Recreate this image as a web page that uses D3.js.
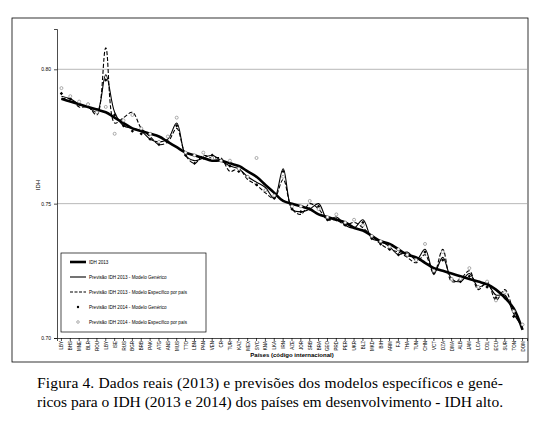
<!DOCTYPE html>
<html><head><meta charset="utf-8">
<script src="https://cdn.jsdelivr.net/npm/d3@7"></script>
<style>body{margin:0;background:#fff}</style>
</head><body>
<svg id="c" width="537" height="424"></svg>
<script>
var countries = ["LBY","BHS","MNE","BLR","ROU","LBY","ISE","RUS","BGR","BRB","PAK","ATG","ANS","MUS","TTO","LBN","PAN","VEN","CR","TUR","KAZ","MEX","SYC","KNA","LKA","IRN","AZE","JOR","SRB","BRA","GEO","PRD","PER","UKR","BLZ","MKD","BIH","ARM","FJI","THA","TUN","CHN","VCT","DZA","DMA","ALB","JAM","LCA","COL","ECU","SUR","TON","DOM"];
var idh2013 = [0.789,0.788,0.787,0.786,0.785,0.784,0.782,0.780,0.778,0.777,0.776,0.775,0.773,0.771,0.769,0.768,0.767,0.766,0.766,0.765,0.764,0.762,0.760,0.757,0.754,0.751,0.750,0.749,0.748,0.746,0.745,0.744,0.743,0.741,0.740,0.738,0.736,0.735,0.733,0.731,0.730,0.728,0.726,0.725,0.724,0.723,0.722,0.721,0.720,0.718,0.715,0.711,0.703];
var gen2013 = [0.790,0.789,0.787,0.786,0.784,0.798,0.784,0.779,0.778,0.777,0.774,0.773,0.774,0.780,0.768,0.766,0.767,0.768,0.766,0.764,0.763,0.760,0.758,0.756,0.752,0.763,0.748,0.747,0.748,0.750,0.744,0.745,0.742,0.741,0.744,0.737,0.736,0.734,0.731,0.732,0.729,0.733,0.724,0.730,0.722,0.721,0.724,0.719,0.720,0.716,0.716,0.709,0.704];
var spec2013 = [0.789,0.789,0.786,0.786,0.783,0.808,0.780,0.782,0.784,0.778,0.775,0.772,0.773,0.778,0.768,0.765,0.768,0.767,0.767,0.762,0.763,0.759,0.757,0.754,0.752,0.759,0.748,0.746,0.750,0.748,0.744,0.744,0.742,0.743,0.741,0.738,0.735,0.733,0.732,0.730,0.728,0.731,0.724,0.733,0.721,0.722,0.725,0.718,0.721,0.714,0.718,0.710,0.704];
var gen2014 = [0.791,0.789,0.787,0.787,0.785,0.796,0.783,0.779,0.777,0.776,0.774,0.772,0.773,0.779,0.768,0.765,0.767,0.768,0.766,0.764,0.762,0.760,0.757,0.755,0.752,0.762,0.748,0.747,0.748,0.749,0.744,0.744,0.742,0.741,0.743,0.737,0.735,0.733,0.731,0.731,0.729,0.732,0.724,0.729,0.722,0.721,0.723,0.719,0.719,0.715,0.715,0.708,0.705];
var spec2014 = [0.793,0.790,0.788,0.787,0.784,0.786,0.776,0.781,0.783,0.778,0.776,0.773,0.775,0.782,0.769,0.768,0.769,0.767,0.766,0.766,0.763,0.760,0.767,0.755,0.753,0.760,0.749,0.749,0.751,0.748,0.745,0.746,0.743,0.744,0.742,0.738,0.736,0.734,0.733,0.731,0.729,0.735,0.725,0.732,0.722,0.722,0.726,0.719,0.721,0.714,0.717,0.710,0.705];
var yTicks = [0.70,0.75,0.80];

var svg = d3.select("#c");
// outer frame
svg.append("rect").attr("x",12).attr("y",18).attr("width",516).attr("height",344)
  .attr("fill","none").attr("stroke","#000").attr("stroke-width",0.8);

// band domain by index (country codes repeat)
var x = d3.scaleBand().domain(d3.range(countries.length)).range([57,527]);
var y = d3.scaleLinear().domain([0.70,0.815]).range([338,29]);
var cx = function(i){ return x(i) + x.bandwidth()/2; };

svg.selectAll(".grid").data(yTicks.slice(1)).enter().append("line")
  .attr("x1",57).attr("x2",527).attr("y1",y).attr("y2",y)
  .attr("stroke","#999").attr("stroke-width",0.7);

var yAxis = svg.append("g").attr("transform","translate(57,0)")
  .call(d3.axisLeft(y).tickValues(yTicks).tickFormat(d3.format(".2f")).tickSize(3));
yAxis.selectAll("text").attr("font-size",5).attr("font-family","Arial, Liberation Sans");
var xAxis = svg.append("g").attr("transform","translate(0,338)")
  .call(d3.axisBottom(x).tickSize(3).tickFormat(function(i){return countries[i];}));
xAxis.selectAll("text").attr("font-size",4.5).attr("font-family","Arial, Liberation Sans")
  .attr("transform","rotate(-90)").attr("text-anchor","end").attr("dx",-3).attr("dy",-4);
svg.selectAll(".domain,.tick line").attr("stroke","#000").attr("stroke-width",0.7);

svg.append("text").attr("transform","translate(40,185) rotate(-90)").attr("text-anchor","middle")
  .attr("font-size",6).attr("font-family","Arial, Liberation Sans").text("IDH");
svg.append("text").attr("x",292).attr("y",357).attr("text-anchor","middle")
  .attr("font-size",6).attr("font-weight","bold").attr("font-family","Arial, Liberation Sans")
  .text("Países (código internacional)");

var line = d3.line().x(function(d,i){return cx(i);}).y(function(d){return y(d);})
  .curve(d3.curveCatmullRom.alpha(0.5));
function drawLine(data, w, dash){
  svg.append("path").datum(data).attr("d",line).attr("fill","none")
    .attr("stroke","#000").attr("stroke-width",w).attr("stroke-dasharray",dash||null);
}
drawLine(spec2013,1.1,"4,2");
drawLine(gen2013,1.1);
drawLine(idh2013,2.6);

svg.selectAll(".g14").data(gen2014).enter().append("rect")
  .attr("x",function(d,i){return cx(i)-1.2;}).attr("y",function(d){return y(d)-1.2;})
  .attr("width",2.4).attr("height",2.4).attr("fill","#000")
  .attr("transform",function(d,i){return "rotate(45,"+cx(i)+","+y(d)+")";});
svg.selectAll(".s14").data(spec2014).enter().append("circle")
  .attr("cx",function(d,i){return cx(i);}).attr("cy",function(d){return y(d);})
  .attr("r",1.5).attr("fill","#fff").attr("stroke","#777").attr("stroke-width",0.6);

// legend
var lg = svg.append("g");
lg.append("rect").attr("x",61).attr("y",253).attr("width",145).attr("height",79)
  .attr("fill","#fff").attr("stroke","#000").attr("stroke-width",0.7);
var items = [
  {t:"IDH 2013", w:2.6},
  {t:"Previsão IDH 2013 - Modelo Genérico", w:1.1},
  {t:"Previsão IDH 2013 - Modelo Específico por país", w:1.1, dash:"3,1.5"},
  {t:"Previsão IDH 2014 - Modelo Genérico", dot:"g"},
  {t:"Previsão IDH 2014 - Modelo Específico por país", dot:"s"}
];
items.forEach(function(it,k){
  var yy = 262 + k*15;
  if(it.dot==="g") lg.append("circle").attr("cx",78).attr("cy",yy).attr("r",1.2).attr("fill","#000");
  else if(it.dot==="s") lg.append("circle").attr("cx",78).attr("cy",yy).attr("r",1.3).attr("fill","#fff").attr("stroke","#777").attr("stroke-width",0.6);
  else lg.append("line").attr("x1",70).attr("x2",86).attr("y1",yy).attr("y2",yy)
    .attr("stroke","#000").attr("stroke-width",it.w).attr("stroke-dasharray",it.dash||null);
  lg.append("text").attr("x",89).attr("y",yy+1.7).attr("font-size",4.6)
    .attr("font-family","Arial, Liberation Sans").text(it.t);
});

// caption
var cap = svg.append("text").attr("font-family","Liberation Serif, Times New Roman, serif").attr("font-size",15.5);
cap.append("tspan").attr("x",37).attr("y",388).attr("textLength",466).attr("lengthAdjust","spacing")
  .text("Figura 4. Dados reais (2013) e previsões dos modelos específicos e gené-");
cap.append("tspan").attr("x",37).attr("y",407).attr("textLength",466).attr("lengthAdjust","spacing")
  .text("ricos para o IDH (2013 e 2014) dos países em desenvolvimento - IDH alto.");
</script>
</body></html>
